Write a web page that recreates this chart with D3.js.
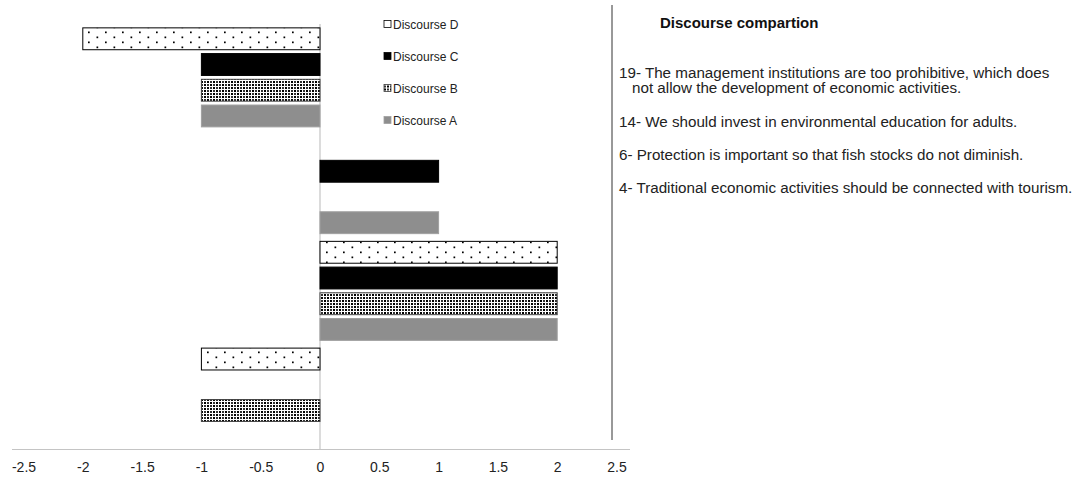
<!DOCTYPE html>
<html lang="en">
<head>
    <meta charset="UTF-8">
    <title>Discourse compartion</title>
    <script src="https://d3js.org/d3.v7.min.js"></script>
    <style>
        body {
            margin: 0;
            padding: 0;
            background: #fff;
            font-family: "Liberation Sans", Arial, sans-serif;
        }
    </style>
</head>
<body>
    <svg width="1077" height="483"></svg>
    <script>
        // statements (categories), top to bottom
        const categories = ["19", "14", "6", "4"];
        const series = ["Discourse D", "Discourse C", "Discourse B", "Discourse A"];
        const discourseD = [-2, 0, 2, -1];
        const discourseC = [-1, 1, 2, 0];
        const discourseB = [-1, 0, 2, -1];
        const discourseA = [-1, 1, 2, 0];
        const xTicks = [-2.5, -2, -1.5, -1, -0.5, 0, 0.5, 1, 1.5, 2, 2.5];
        const statements = [
            ["19- The management institutions are too prohibitive, which does", "not allow the development of economic activities."],
            ["14- We should invest in environmental education for adults."],
            ["6- Protection is important so that fish stocks do not diminish."],
            ["4- Traditional economic activities should be connected with tourism."]
        ];
        const title = "Discourse compartion";

        const values = [discourseD, discourseC, discourseB, discourseA];

        const svg = d3.select("svg");
        const defs = svg.append("defs");

        // dotted pattern (Discourse D)
        const pd = defs.append("pattern").attr("id", "dots")
            .attr("patternUnits", "userSpaceOnUse")
            .attr("width", 17).attr("height", 10);
        pd.append("rect").attr("width", 17).attr("height", 10).attr("fill", "#fff");
        pd.append("rect").attr("x", 3).attr("y", 1.5).attr("width", 1.7).attr("height", 1.7).attr("fill", "#000");
        pd.append("rect").attr("x", 11.5).attr("y", 6.5).attr("width", 1.7).attr("height", 1.7).attr("fill", "#000");

        // small checker pattern (Discourse B)
        const pb = defs.append("pattern").attr("id", "checker")
            .attr("patternUnits", "userSpaceOnUse")
            .attr("width", 6).attr("height", 6);
        pb.append("rect").attr("width", 6).attr("height", 6).attr("fill", "#fff");
        pb.append("rect").attr("x", 0).attr("y", 0).attr("width", 2).attr("height", 2).attr("fill", "#000");
        pb.append("rect").attr("x", 3).attr("y", 3).attr("width", 2).attr("height", 2).attr("fill", "#000");
        pb.append("rect").attr("x", 0).attr("y", 3).attr("width", 2).attr("height", 2).attr("fill", "#333");
        pb.append("rect").attr("x", 3).attr("y", 0).attr("width", 2).attr("height", 2).attr("fill", "#333");

        const fills = ["url(#dots)", "#000", "url(#checker)", "#8e8e8e"];
        const strokes = ["#000", "#000", "#404040", "#a0a0a0"];

        const x = d3.scaleLinear().domain([-2.5, 2.5]).range([23.5, 616.5]);
        const y = d3.scaleBand().domain(categories).range([24, 451]).paddingInner(0);
        const yInner = d3.scaleBand().domain(series).range([0, y.bandwidth()]).padding(0.15);

        const axisY = 449.5;

        // zero line
        svg.append("line")
            .attr("x1", x(0)).attr("x2", x(0))
            .attr("y1", y.range()[0]).attr("y2", axisY)
            .attr("stroke", "#c4c4c4").attr("stroke-width", 1.2);

        // bars
        series.forEach((s, si) => {
            const data = categories.map((c, ci) => ({ c, v: values[si][ci] })).filter(d => d.v !== 0);
            svg.append("g").selectAll("rect").data(data).join("rect")
                .attr("x", d => x(Math.min(0, d.v)))
                .attr("y", d => y(d.c) + yInner(s))
                .attr("width", d => Math.abs(x(d.v) - x(0)))
                .attr("height", yInner.bandwidth())
                .attr("fill", fills[si])
                .attr("stroke", strokes[si])
                .attr("stroke-width", 1);
        });

        // x axis
        const xAxis = svg.append("g")
            .attr("transform", `translate(0,${axisY})`)
            .call(d3.axisBottom(x).tickValues(xTicks).tickSize(0).tickPadding(13)
                .tickFormat(d => String(d)));
        xAxis.select(".domain").remove();
        xAxis.append("line")
            .attr("x1", 12).attr("x2", 630)
            .attr("stroke", "#c4c4c4").attr("stroke-width", 1.2);
        xAxis.selectAll("text")
            .style("font-family", "'Liberation Sans', Arial, sans-serif")
            .style("font-size", "14px")
            .attr("fill", "#222");

        // legend
        const legend = svg.append("g").attr("transform", "translate(384,0)");
        const legendY = [24.5, 56.5, 88.5, 120.5];
        series.forEach((s, i) => {
            const g = legend.append("g").attr("transform", `translate(0,${legendY[i]})`);
            g.append("rect").attr("x", 0).attr("y", -4).attr("width", 7).attr("height", 7)
                .attr("fill", i === 0 ? "#fff" : fills[i]).attr("stroke", strokes[i]).attr("stroke-width", 0.8);
            g.append("text").attr("x", 9).attr("dy", "0.35em")
                .style("font-size", "12px").attr("fill", "#222").text(s);
        });

        // separator
        svg.append("line")
            .attr("x1", 612).attr("x2", 612).attr("y1", 5).attr("y2", 440)
            .attr("stroke", "#333").attr("stroke-width", 1);

        // title + statements
        svg.append("text").attr("x", 660).attr("y", 28)
            .style("font-size", "15px").style("font-weight", "bold").attr("fill", "#111")
            .text(title);

        const stY = [78, 127, 160, 193];
        statements.forEach((lines, i) => {
            lines.forEach((t, j) => {
                svg.append("text")
                    .attr("x", j === 0 ? 619 : 632)
                    .attr("y", stY[i] + j * 15)
                    .style("font-size", "15.2px").attr("fill", "#222")
                    .text(t);
            });
        });
    </script>
</body>
</html>
